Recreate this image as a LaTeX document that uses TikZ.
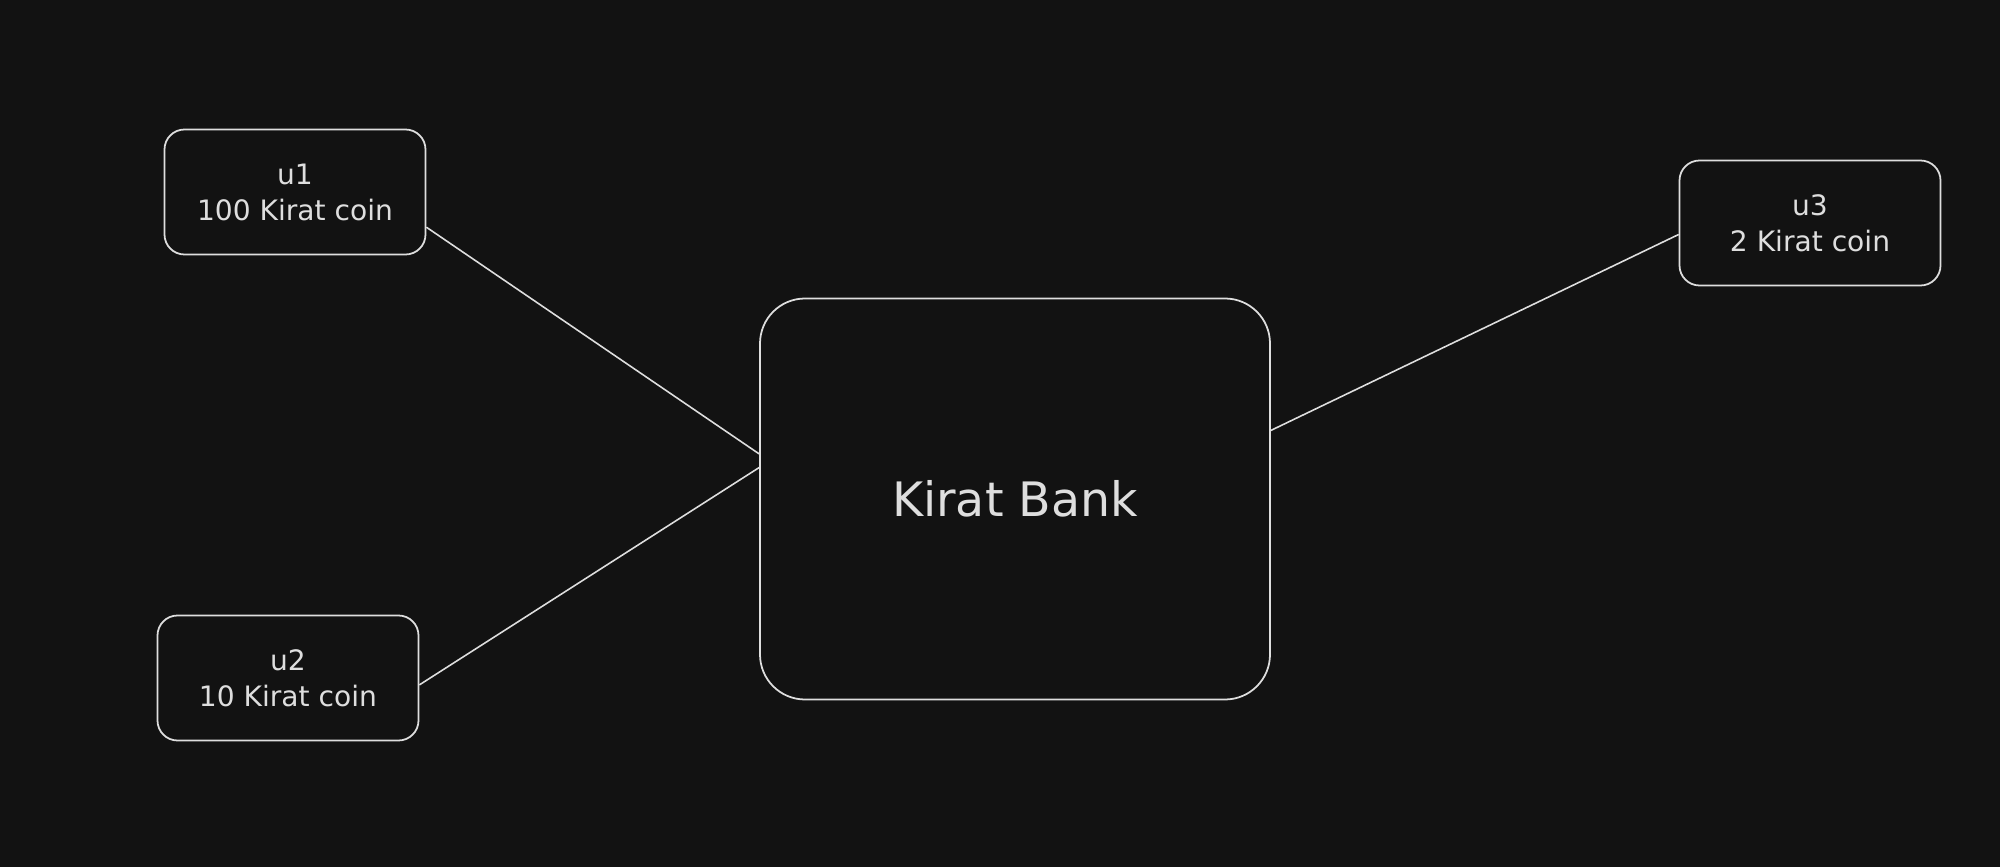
\documentclass[tikz,border=0pt]{standalone}
\usepackage{fontspec}
\setmainfont{DejaVu Sans}
\usetikzlibrary{calc}
\definecolor{bgdark}{HTML}{121212}
\definecolor{inkgray}{HTML}{DEDEDE}
\tikzset{
  user/.style={draw=inkgray,line width=1pt,rounded corners=0.4cm,minimum width=5.22cm,minimum height=2.5cm,align=center,text=inkgray,font=\fontsize{16}{20.5}\selectfont},
  bank/.style={draw=inkgray,line width=1pt,rounded corners=0.9cm,minimum width=10.2cm,minimum height=8.02cm,text=inkgray,font=\fontsize{27}{32}\selectfont},
  wire/.style={draw=inkgray,line width=0.9pt}
}
\begin{document}
\begin{tikzpicture}
                      \fill[bgdark] (0,0) rectangle (40,17.34);
                      \node[user](u1)at(5.90,13.50){u1\\100 Kirat coin};
                      \node[user](u2)at(5.76,3.78){u2\\10 Kirat coin};
                      \node[user](u3)at(36.20,12.88){u3\\2 Kirat coin};
                      \node[bank](kb)at(20.30,7.36){Kirat Bank};
                      \draw[wire] (u1.-15) -- (kb.170);
                      \draw[wire] (u2.-3) -- (kb.173);
                      \draw[wire] (kb.15) -- (u3.185);
                  \end{tikzpicture}
\end{document}
